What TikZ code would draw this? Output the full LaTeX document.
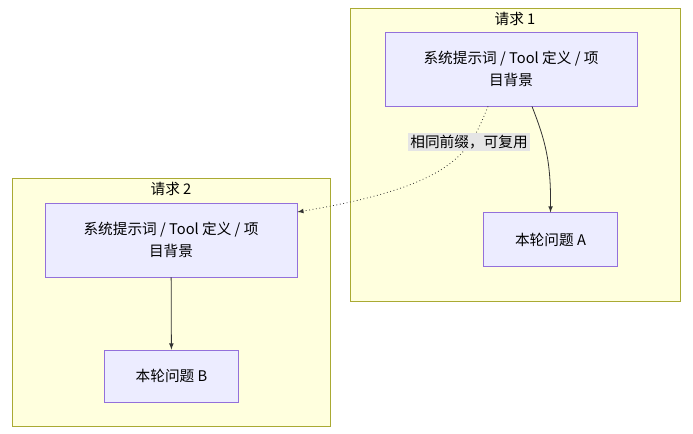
\documentclass[tikz,border=0pt]{standalone}
\usepackage{fontspec}
\setmainfont{Noto Sans CJK SC}
\usetikzlibrary{positioning}
\definecolor{clfill}{HTML}{FFFFDE}
\definecolor{cldraw}{HTML}{AAAA33}
\definecolor{ndfill}{HTML}{ECECFF}
\definecolor{nddraw}{HTML}{9370DB}
\tikzset{
  box/.style={draw=nddraw,fill=ndfill,line width=0.6pt,align=center,font=\fontsize{11}{16}\selectfont},
  cluster/.style={draw=cldraw,fill=clfill,line width=0.6pt},
  edge/.style={draw=black!80,line width=0.6pt,-latex}
}
\begin{document}
\begin{tikzpicture}[x=0.75pt,y=-0.75pt]
        \useasboundingbox (0,0) rectangle (693,434);
        % clusters
        \draw[cluster] (350,8) rectangle (680,301);
        \node[font=\fontsize{11}{12}\selectfont] (t1) at (515,19) {请求 1};
        \draw[cluster] (12,178) rectangle (330,426);
        \node[font=\fontsize{11}{12}\selectfont] (t2) at (171,189) {请求 2};

        \node[box,minimum width=189pt,minimum height=55.5pt] (a1) at (511,69) {系统提示词 / Tool 定义 / 项\\目背景};
        \node[box,minimum width=100pt,minimum height=40pt] (a2) at (550.5,239.5) {本轮问题 A};
        \node[box,minimum width=189pt,minimum height=55.5pt] (b1) at (171,240) {系统提示词 / Tool 定义 / 项\\目背景};
        \node[box,minimum width=100pt,minimum height=39pt] (b2) at (171.5,376) {本轮问题 B};

        \draw[edge] (a1.south -| 532,0) .. controls (545,140) and (551,160) .. (a2.north);
        \draw[edge] (b1) -- (b2);
        \draw[edge,dotted] (a1.south -| 488,0) .. controls (470,150) and (460,185) .. (b1.east |- 0,212);
        \node[fill=gray!20,inner sep=1.5pt,font=\fontsize{11}{12}\selectfont] (lbl) at (469,142) {相同前缀，可复用};
\end{tikzpicture}
\end{document}
